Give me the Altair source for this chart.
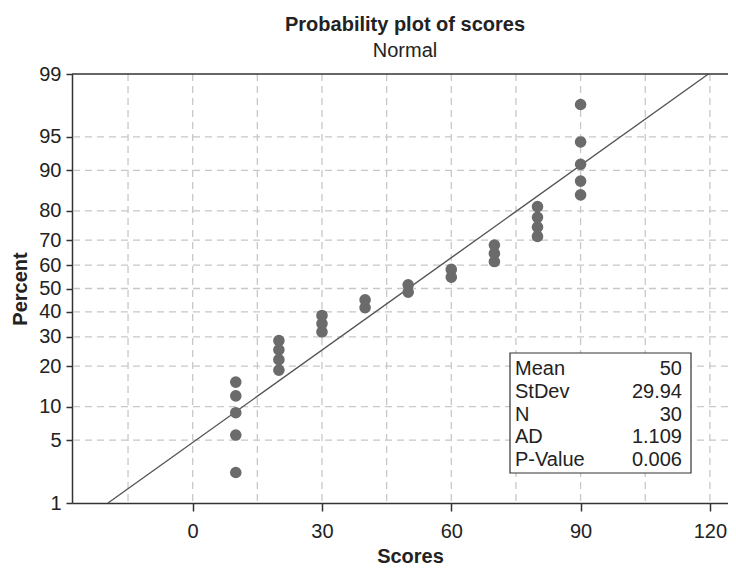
import altair as alt
import pandas as pd
from statistics import NormalDist

# ---- data ----
scores = [10, 10, 10, 10, 10,
          20, 20, 20, 20,
          30, 30, 30,
          40, 40,
          50, 50,
          60, 60,
          70, 70, 70,
          80, 80, 80, 80,
          90, 90, 90, 90, 90]
percents = [2.3, 5.6, 8.9, 12.2, 15.5,
            18.8, 22.0, 25.3, 28.6,
            31.9, 35.2, 38.5,
            41.8, 45.1,
            48.4, 51.6,
            54.9, 58.2,
            61.5, 64.8, 68.1,
            71.4, 74.7, 78.0, 81.3,
            84.5, 87.8, 91.1, 94.4, 97.7]

fit_mean = 50
fit_sd = 29.94
line_percents = [1, 99]

y_tick_percents = [1, 5, 10, 20, 30, 40, 50, 60, 70, 80, 90, 95, 99]
y_grid_percents = [5, 10, 20, 30, 40, 50, 60, 70, 80, 90, 95]
x_tick_values = [0, 30, 60, 90, 120]
x_grid_values = [-15, 0, 15, 30, 45, 60, 75, 90, 105, 120]

stat_names = ["Mean", "StDev", "N", "AD", "P-Value"]
stat_values = ["50", "29.94", "30", "1.109", "0.006"]

# ---- layout ----
W, H = 656, 429
FONT = "Liberation Sans"
TXT = "#222222"
nd = NormalDist()
z_ticks = [nd.inv_cdf(p / 100) for p in y_tick_percents]
z_lo, z_hi = nd.inv_cdf(0.01), nd.inv_cdf(0.99)

xscale = alt.Scale(domain=[-28, 124.2], nice=False, zero=False)
yscale = alt.Scale(domain=[z_lo, z_hi], nice=False, zero=False)

xaxis = alt.Axis(values=x_tick_values, format="d", grid=False, tickSize=8,
                 tickColor="#333333", tickWidth=1.5, domainColor="#333333",
                 domainWidth=1.5, labelFontSize=20, labelColor=TXT, labelPadding=10,
                 labelFlush=False, labelOverlap=False,
                 title="Scores", titleFontSize=20, titleFontWeight="bold",
                 titleColor=TXT, titleX=338, titleY=59, titleBaseline="alphabetic")
yaxis = alt.Axis(values=z_ticks, labelExpr="round(cumulativeNormal(datum.value) * 100)",
                 grid=False, tickSize=6, tickColor="#333333", tickWidth=1.5,
                 domainColor="#333333", domainWidth=1.5, labelFontSize=20,
                 labelColor=TXT, labelPadding=5, labelOverlap=False, labelFlush=False,
                 title="Percent", titleFontSize=20, titleFontWeight="bold",
                 titleColor=TXT, titleX=-52, titleY=H / 2, titleAngle=270,
                 titleBaseline="middle")

xenc = lambda f: alt.X(f, type="quantitative", scale=xscale, axis=xaxis)
yenc = lambda f: alt.Y(f, type="quantitative", scale=yscale, axis=yaxis)

pts = pd.DataFrame({"score": scores, "pct": percents})
gx = pd.DataFrame({"score": x_grid_values})
gy = pd.DataFrame({"pct": y_grid_percents})
ln = pd.DataFrame({"pct": line_percents})
one = pd.DataFrame({"a": [0]})

grid_x = alt.Chart(gx).mark_rule(color="#c8c8c8", strokeWidth=1.3, strokeDash=[7, 5]).encode(
    x=xenc("score"))
grid_y = alt.Chart(gy).transform_calculate(
    z="quantileNormal(datum.pct / 100)").mark_rule(
    color="#c8c8c8", strokeWidth=1.3, strokeDash=[7, 5]).encode(y=yenc("z"))

fit = alt.Chart(ln).transform_calculate(
    z="quantileNormal(datum.pct / 100)",
    score=f"{fit_mean} + {fit_sd} * quantileNormal(datum.pct / 100)").mark_line(
    color="#555555", strokeWidth=1.4).encode(x=xenc("score"), y=yenc("z"))

dots = alt.Chart(pts).transform_calculate(
    z="quantileNormal(datum.pct / 100)").mark_circle(
    size=135, color="#6b6b6b", opacity=1).encode(x=xenc("score"), y=yenc("z"))

top_border = alt.Chart(one).mark_rule(color="#333333", strokeWidth=1.5).encode(
    x=alt.value(0), x2=alt.value(W), y=alt.value(0))

box = alt.Chart(one).mark_rect(fill="white", stroke="#333333", strokeWidth=1.2).encode(
    x=alt.value(438), x2=alt.value(619), y=alt.value(279), y2=alt.value(399))
box_names = alt.Chart(one).mark_text(align="left", baseline="alphabetic", fontSize=20,
                                     lineHeight=22.8, color=TXT).encode(
    x=alt.value(443), y=alt.value(301), text=alt.value(stat_names))
box_vals = alt.Chart(one).mark_text(align="right", baseline="alphabetic", fontSize=20,
                                    lineHeight=22.8, color=TXT).encode(
    x=alt.value(610), y=alt.value(301), text=alt.value(stat_values))

chart = alt.layer(grid_x, grid_y, fit, dots, top_border, box, box_names, box_vals).properties(
    width=W, height=H,
    autosize=alt.AutoSizeParams(type="none"),
    padding={"left": 64, "top": 66, "right": 0, "bottom": 67},
    title=alt.TitleParams(text="Probability plot of scores", subtitle="Normal",
                          fontSize=20, fontWeight="bold", color=TXT,
                          subtitleFontSize=20, subtitleColor=TXT, subtitlePadding=6,
                          anchor="middle", dx=5, offset=3),
).configure(font=FONT).configure_view(stroke=None)

chart.save("out.html", embed_options={"renderer": "svg", "actions": False})
